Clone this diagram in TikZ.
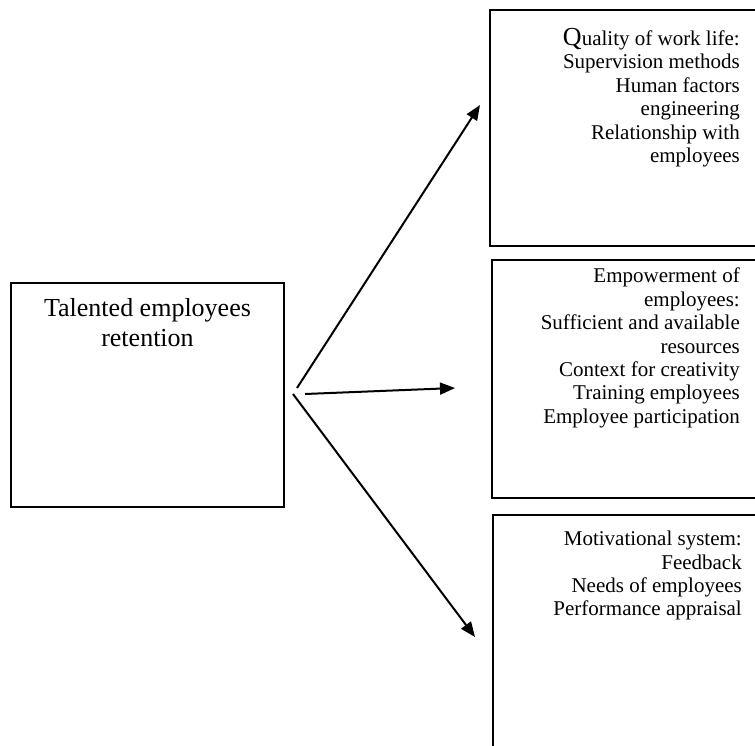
\documentclass[tikz,border=0pt]{standalone}
\usepackage{fontspec}
\setmainfont{Liberation Serif}
\usetikzlibrary{positioning, arrows.meta}

\tikzset{
  box/.style={draw, rectangle, line width=2.6pt, inner sep=0pt},
  items/.style={anchor=north east, align=right, inner sep=0pt,
    font=\fontsize{21}{23.4}\selectfont},
  flow/.style={line width=2pt, -{Triangle[length=15pt, width=12pt]}}
}

\begin{document}
\begin{tikzpicture}[x=1pt, y=-1pt]
    \useasboundingbox (0,0) rectangle (755,745);

    % boxes
    \node[box, minimum width=273pt, minimum height=224pt] (ret) at (147.5,395) {};
    \node[box, minimum width=285pt, minimum height=236pt] (qwl) at (632.5,128) {};
    \node[box, minimum width=283pt, minimum height=238pt] (emp) at (633.5,379) {};
    \node[box, minimum width=282pt, minimum height=245pt] (mot) at (634,637.5) {};

    % texts
    \node[align=center, inner sep=0pt, font=\fontsize{26}{30}\selectfont]
        (ret-t) [below=17pt of ret.north] {Talented employees\\retention};
    \node[items] (qwl-t) at (740,28)
        {{\fontsize{26}{23.4}\selectfont Q}uality of work life:\\Supervision methods\\Human factors\\engineering\\Relationship with\\employees};
    \node[items] (emp-t) at (740,268)
        {Empowerment of\\employees:\\Sufficient and available\\resources\\Context for creativity\\Training employees\\Employee participation};
    \node[items] (mot-t) at (742,531)
        {Motivational system:\\Feedback\\Needs of employees\\Performance appraisal};

    % arrows
    \coordinate (fork1) at (297,388);
    \coordinate (fork2) at (305,394);
    \coordinate (fork3) at (293,394);
    \coordinate (qwl-in) at (480,105);
    \coordinate (emp-in) at (455,388);
    \coordinate (mot-in) at (475,637);

    \path[flow]
    (fork1) edge (qwl-in)
    (fork2) edge (emp-in)
    (fork3) edge (mot-in);
\end{tikzpicture}
\end{document}
